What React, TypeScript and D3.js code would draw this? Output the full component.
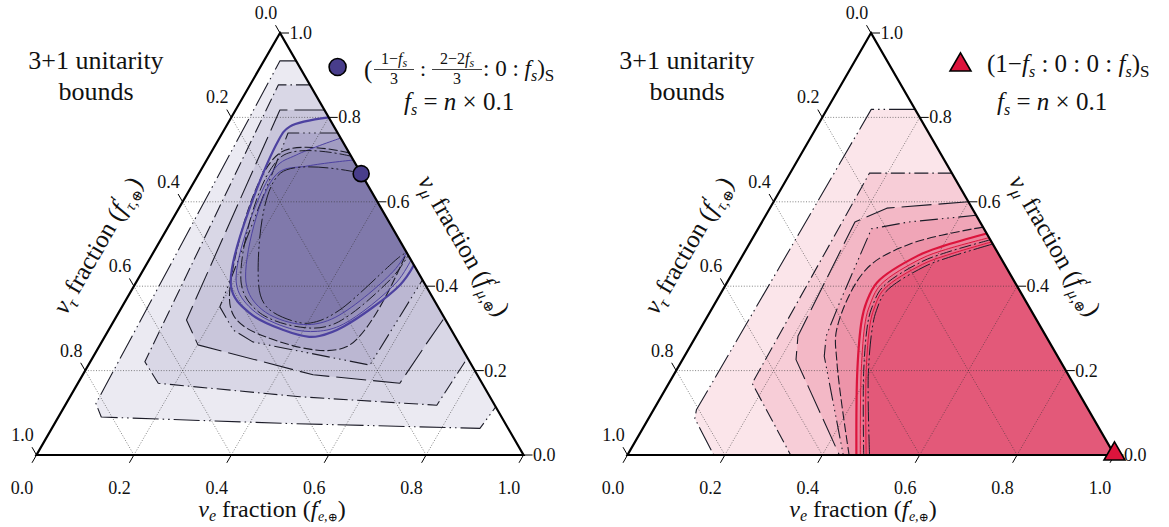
import React from 'react';
import * as d3 from 'd3';

const W = 1169;
const H = 527;
const FONT = '"Liberation Serif", "DejaVu Serif", serif';

// ---- axis data ----
const axisTicks = [0, 0.2, 0.4, 0.6, 0.8, 1.0];
const tickLabels = ['0.0', '0.2', '0.4', '0.6', '0.8', '1.0'];
const gridLevels = [0.2, 0.4, 0.6, 0.8];

// ---- left panel contours: [f_e, f_mu] (f_tau = 1 - f_e - f_mu) ----
const leftA: [number, number][] = [[0.066, 0.934], [0.033, 0.934], [0.061, 0.122], [0.088, 0.09], [0.47, 0.075], [0.879, 0.063], [0.886, 0.114]];
const leftB: [number, number][] = [[0.123, 0.877], [0.058, 0.877], [0.112, 0.221], [0.165, 0.17], [0.472, 0.138], [0.763, 0.118], [0.77, 0.23]];
const leftC: [number, number][] = [[0.1825, 0.8175], [0.091, 0.8175], [0.148, 0.32], [0.201, 0.261], [0.473, 0.19], [0.661, 0.17], [0.669, 0.265], [0.675, 0.325]];
const leftD: [number, number][] = [[0.237, 0.763], [0.135, 0.763], [0.201, 0.351], [0.256, 0.296], [0.31, 0.268], [0.578, 0.213], [0.585, 0.415]];
const leftE: [number, number][] = [[0.284, 0.716], [0.142, 0.716], [0.19, 0.42], [0.24, 0.33], [0.33, 0.28], [0.509, 0.257], [0.52, 0.48]];
const leftS0: [number, number][] = [[0.2, 0.8], [0.131, 0.778], [0.124, 0.746], [0.2, 0.399], [0.27, 0.336], [0.359, 0.296], [0.42, 0.28], [0.44, 0.282], [0.478, 0.304], [0.545, 0.403], [0.55, 0.45]];
const leftF: [number, number][] = [[0.249, 0.751], [0.178, 0.711], [0.15, 0.68], [0.205, 0.41], [0.27, 0.345], [0.37, 0.3], [0.43, 0.293], [0.475, 0.31], [0.535, 0.41], [0.538, 0.462]];
const leftG: [number, number][] = [[0.292, 0.708], [0.15, 0.708], [0.215, 0.41], [0.285, 0.34], [0.39, 0.303], [0.455, 0.31], [0.52, 0.42], [0.527, 0.473]];
const leftH: [number, number][] = [[0.301, 0.699], [0.215, 0.685], [0.16, 0.665], [0.225, 0.41], [0.29, 0.345], [0.385, 0.31], [0.445, 0.322], [0.515, 0.435], [0.52, 0.48]];
const leftI: [number, number][] = [[0.332, 0.668], [0.167, 0.668], [0.248, 0.415], [0.297, 0.351], [0.384, 0.3135], [0.417, 0.316], [0.451, 0.344], [0.511, 0.47], [0.52, 0.48]];

// ---- right panel contours ----
const rightA: [number, number][] = [[0.181, 0.819], [0.091, 0.819], [0.088, 0.107], [0.095, 0.0865], [0.177, 0]];
const rightB: [number, number][] = [[0.332, 0.668], [0.163, 0.668], [0.171, 0.17], [0.335, 0]];
const rightC: [number, number][] = [[0.4, 0.6], [0.24, 0.585], [0.191, 0.552], [0.209, 0.282], [0.233, 0.226], [0.435, 0]];
const rightD: [number, number][] = [[0.432, 0.568], [0.3, 0.552], [0.233, 0.536], [0.255, 0.361], [0.267, 0.282], [0.287, 0.234], [0.443, 0]];
const rightE: [number, number][] = [[0.46, 0.54], [0.33, 0.5], [0.27, 0.44], [0.28, 0.3], [0.32, 0.22], [0.455, 0]];
const rightS0: [number, number][] = [[0.475, 0.525], [0.4, 0.495], [0.361, 0.473], [0.308, 0.409], [0.31, 0.36], [0.321, 0.32], [0.371, 0.202], [0.47, 0]];
const rightF: [number, number][] = [[0.485, 0.515], [0.41, 0.487], [0.37, 0.465], [0.318, 0.403], [0.32, 0.355], [0.33, 0.317], [0.38, 0.2], [0.478, 0]];
const rightG: [number, number][] = [[0.49, 0.51], [0.415, 0.48], [0.375, 0.458], [0.325, 0.398], [0.327, 0.35], [0.337, 0.313], [0.386, 0.198], [0.485, 0]];
const rightH: [number, number][] = [[0.495, 0.505], [0.42, 0.474], [0.38, 0.452], [0.33, 0.392], [0.333, 0.346], [0.343, 0.31], [0.392, 0.196], [0.49, 0]];
const rightI: [number, number][] = [[0.5, 0.5], [0.425, 0.468], [0.386, 0.446], [0.337, 0.387], [0.34, 0.342], [0.35, 0.307], [0.398, 0.193], [0.497, 0]];

const leftContours = [leftA, leftB, leftC, leftD, leftE, leftS0, leftF, leftG, leftH, leftI];
const rightContours = [rightA, rightB, rightC, rightD, rightE, rightS0, rightF, rightG, rightH, rightI];

// source points
const leftSource: [number, number] = [1 / 3, 2 / 3];
const rightSource: [number, number] = [1, 0];

// ---- styles (kept apart from data) ----
const LEFT_COLOR = '#483d8b';
const LEFT_LINE = '#4d42a0';
const RIGHT_COLOR = '#dc143c';
const LINE_DARK = '#1c1c28';
const FILL_ALPHA = 0.11;
const SIDE = 487;
const Y_BOTTOM = 455;
const Y_TOP = 33;

const styles = [
  { dash: '26,4,1.5,4,1.5,4', width: 1.1, colored: false, smooth: false },
  { dash: '14,4,1.5,4', width: 1.1, colored: false, smooth: false },
  { dash: '30,7', width: 1.1, colored: false, smooth: false },
  { dash: '18,4,1.5,4,1.5,4,1.5,4', width: 1.1, colored: false, smooth: false },
  { dash: '9,3', width: 1.1, colored: false, smooth: true },
  { dash: null, width: 2.2, colored: true, smooth: true },
  { dash: null, width: 1, colored: true, smooth: true },
  { dash: '12,3,2,3', width: 1, colored: false, smooth: true },
  { dash: null, width: 1, colored: true, smooth: true },
  { dash: '20,3,2,3,2,3', width: 1, colored: false, smooth: true },
];

function makeProj(x0: number) {
  const xs = d3.scaleLinear().domain([0, 1]).range([x0, x0 + SIDE]);
  const ys = d3.scaleLinear().domain([0, 1]).range([Y_BOTTOM, Y_TOP]);
  return (fe: number, fm: number): [number, number] => [xs(fe + fm / 2), ys(fm)];
}

function AxisTitle({ x, y, rot, sym }: { x: number; y: number; rot: number; sym: string }) {
  return (
    <text transform={`translate(${x},${y}) rotate(${rot})`} y={8} textAnchor="middle" fontSize={25} fontFamily={FONT} fill="#111">
      <tspan fontStyle="italic">ν</tspan>
      <tspan fontSize={17} dy={5} fontStyle="italic">{sym}</tspan>
      <tspan dy={-5}> fraction (</tspan>
      <tspan fontStyle="italic">f</tspan>
      <tspan fontSize={18} dy={-9} dx={1}>′</tspan>
      <tspan fontSize={16} dy={15} dx={-4} fontStyle="italic">{sym},</tspan>
      <tspan fontSize={14}>⊕</tspan>
      <tspan dy={-6}>)</tspan>
    </text>
  );
}

function Ternary({ x0, contours, color, lineColor, closeExtra, id, marker }: any) {
  const proj = makeProj(x0);
  const T = proj(0, 1);
  const L = proj(0, 0);
  const R = proj(1, 0);
  const lin = d3.line<[number, number]>().x((d) => proj(d[0], d[1])[0]).y((d) => proj(d[0], d[1])[1]).curve(d3.curveLinear);
  const smooth = d3.line<[number, number]>().x((d) => proj(d[0], d[1])[0]).y((d) => proj(d[0], d[1])[1]).curve(d3.curveCatmullRom.alpha(0.5));
  const fillPath = (pts: [number, number][], st: any) => {
    const gen = st.smooth ? smooth : lin;
    let d = gen(pts) || '';
    closeExtra.forEach((p: [number, number]) => {
      const q = proj(p[0], p[1]);
      d += `L${q[0]},${q[1]}`;
    });
    return d + 'Z';
  };
  const grid: [number, number][][] = [];
  gridLevels.forEach((v) => {
    grid.push([proj(0, v), proj(1 - v, v)]);
    grid.push([proj(v, 0), proj(v, 1 - v)]);
    grid.push([proj(1 - v, 0), proj(0, 1 - v)]);
  });
  const mpos = proj(marker.pt[0], marker.pt[1]);
  return (
    <g>
      <defs>
        <clipPath id={id}>
          <polygon points={`${T[0]},${T[1]} ${L[0]},${L[1]} ${R[0]},${R[1]}`} />
        </clipPath>
      </defs>
      <g clipPath={`url(#${id})`}>
        {contours.map((pts: [number, number][], i: number) => (
          <path key={'f' + i} d={fillPath(pts, styles[i])} fill={color} fillOpacity={FILL_ALPHA} stroke="none" />
        ))}
        {grid.map((g, i) => (
          <line key={'g' + i} x1={g[0][0]} y1={g[0][1]} x2={g[1][0]} y2={g[1][1]} stroke="#333" strokeWidth={0.8} strokeDasharray="1,1.7" strokeOpacity={0.75} />
        ))}
        {contours.map((pts: [number, number][], i: number) => {
          const st = styles[i];
          const gen = st.smooth ? smooth : lin;
          return (
            <path key={'s' + i} d={gen(pts) || ''} fill="none" stroke={st.colored ? lineColor : LINE_DARK} strokeWidth={st.width} strokeDasharray={st.dash || undefined} strokeLinejoin="round" />
          );
        })}
      </g>
      <polygon points={`${T[0]},${T[1]} ${L[0]},${L[1]} ${R[0]},${R[1]}`} fill="none" stroke="#000" strokeWidth={2.2} strokeLinejoin="miter" />
      {/* bottom axis: f_e */}
      {axisTicks.map((v, i) => {
        const p = proj(v, 0);
        return (
          <g key={'b' + i}>
            <line x1={p[0]} y1={p[1]} x2={p[0] - 4.5} y2={p[1] + 7.8} stroke="#000" strokeWidth={1} />
            <text x={p[0] - 14.5} y={p[1] + 39} textAnchor="middle" fontSize={18} fontFamily={FONT} fill="#111">{tickLabels[i]}</text>
          </g>
        );
      })}
      {/* left axis: f_tau */}
      {axisTicks.map((v, i) => {
        const p = proj(0, 1 - v);
        return (
          <g key={'l' + i}>
            <line x1={p[0]} y1={p[1]} x2={p[0] - 4.5} y2={p[1] - 7.8} stroke="#000" strokeWidth={1} />
            <text x={p[0] - 14} y={p[1] - 14} textAnchor="middle" fontSize={18} fontFamily={FONT} fill="#111">{tickLabels[i]}</text>
          </g>
        );
      })}
      {/* right axis: f_mu */}
      {axisTicks.map((v, i) => {
        const p = proj(1 - v, v);
        return (
          <g key={'r' + i}>
            <line x1={p[0]} y1={p[1]} x2={p[0] + 9} y2={p[1]} stroke="#000" strokeWidth={1} />
            <text x={p[0] + 9.5} y={p[1] + 6} textAnchor="start" fontSize={18} fontFamily={FONT} fill="#111">{tickLabels[i]}</text>
          </g>
        );
      })}
      {marker.type === 'circle' ? (
        <circle cx={mpos[0]} cy={mpos[1]} r={8} fill={color} stroke="#000" strokeWidth={1.6} />
      ) : (
        <path d={d3.symbol(d3.symbolTriangle, 190)() || ''} transform={`translate(${mpos[0]},${mpos[1] - 1})`} fill={color} stroke="#000" strokeWidth={1.6} />
      )}
      <text x={x0 + 59.5} y={68.5} textAnchor="middle" fontSize={26} fontFamily={FONT} fill="#111">3+1 unitarity</text>
      <text x={x0 + 59.5} y={100} textAnchor="middle" fontSize={26} fontFamily={FONT} fill="#111">bounds</text>
      <text x={x0 + 235.5} y={517} textAnchor="middle" fontSize={24} fontFamily={FONT} fill="#111">
        <tspan fontStyle="italic">ν</tspan>
        <tspan fontSize={16} dy={4} fontStyle="italic">e</tspan>
        <tspan dy={-4}> fraction (</tspan>
        <tspan fontStyle="italic">f</tspan>
        <tspan fontSize={16} dy={-6} dx={1}>′</tspan>
        <tspan fontSize={14} dy={10} dx={-4} fontStyle="italic">e,</tspan>
        <tspan fontSize={12}>⊕</tspan>
        <tspan dy={-4}>)</tspan>
      </text>
      <AxisTitle x={x0 + 61.2} y={245.4} rot={-60} sym="τ" />
      <AxisTitle x={x0 + 427.5} y={245.5} rot={60} sym="μ" />
    </g>
  );
}

function FsLine({ x, y }: { x: number; y: number }) {
  return (
    <text x={x} y={y} fontSize={25} fontFamily={FONT} fill="#111">
      <tspan fontStyle="italic">f</tspan>
      <tspan fontSize={16} dy={5} fontStyle="italic">s</tspan>
      <tspan dy={-5}> = </tspan>
      <tspan fontStyle="italic">n</tspan>
      <tspan> × 0.1</tspan>
    </text>
  );
}

export default function App() {
  return (
    <svg width={W} height={H} style={{ display: 'block', position: 'absolute', left: 0, top: 0, background: '#fff' }}>
      <rect x={0} y={0} width={W} height={H} fill="#fff" />
      <Ternary x0={36.5} contours={leftContours} color={LEFT_COLOR} lineColor={LEFT_LINE} closeExtra={[]} id="clipL" marker={{ type: 'circle', pt: leftSource }} />
      <Ternary x0={627.5} contours={rightContours} color={RIGHT_COLOR} lineColor={RIGHT_COLOR} closeExtra={[[1, 0]]} id="clipR" marker={{ type: 'triangle', pt: rightSource }} />

      {/* left legend */}
      <circle cx={337.6} cy={67} r={8.5} fill={LEFT_COLOR} stroke="#000" strokeWidth={1.6} />
      <text x={364} y={78} fontSize={25} fontFamily={FONT} fill="#111">(</text>
      <text x={394} y={64} textAnchor="middle" fontSize={16} fontFamily={FONT} fill="#111">
        <tspan>1−</tspan><tspan fontStyle="italic">f</tspan><tspan fontSize={12} dy={3} fontStyle="italic">s</tspan>
      </text>
      <line x1={374} x2={414} y1={69.5} y2={69.5} stroke="#111" strokeWidth={0.8} />
      <text x={394} y={84} textAnchor="middle" fontSize={16} fontFamily={FONT} fill="#111">3</text>
      <text x={423} y={76} textAnchor="middle" fontSize={22} fontFamily={FONT} fill="#111">:</text>
      <text x={457} y={64} textAnchor="middle" fontSize={16} fontFamily={FONT} fill="#111">
        <tspan>2−2</tspan><tspan fontStyle="italic">f</tspan><tspan fontSize={12} dy={3} fontStyle="italic">s</tspan>
      </text>
      <line x1={432} x2={482} y1={69.5} y2={69.5} stroke="#111" strokeWidth={0.8} />
      <text x={457} y={84} textAnchor="middle" fontSize={16} fontFamily={FONT} fill="#111">3</text>
      <text x={483} y={76} fontSize={23} fontFamily={FONT} fill="#111">
        <tspan>: 0 : </tspan>
        <tspan fontStyle="italic">f</tspan>
        <tspan fontSize={16} dy={5} fontStyle="italic">s</tspan>
        <tspan dy={-5}>)</tspan>
        <tspan fontSize={17} dy={5}>S</tspan>
      </text>
      <FsLine x={404} y={110} />

      {/* right legend */}
      <path d={d3.symbol(d3.symbolTriangle, 190)() || ''} transform="translate(960.5,65)" fill={RIGHT_COLOR} stroke="#000" strokeWidth={1.6} />
      <text x={987} y={72} fontSize={25} fontFamily={FONT} fill="#111">
        <tspan>(1−</tspan>
        <tspan fontStyle="italic">f</tspan>
        <tspan fontSize={16} dy={5} fontStyle="italic">s</tspan>
        <tspan dy={-5}> : 0 : 0 : </tspan>
        <tspan fontStyle="italic">f</tspan>
        <tspan fontSize={16} dy={5} fontStyle="italic">s</tspan>
        <tspan dy={-5}>)</tspan>
        <tspan fontSize={17} dy={5}>S</tspan>
      </text>
      <FsLine x={997} y={110} />
    </svg>
  );
}
